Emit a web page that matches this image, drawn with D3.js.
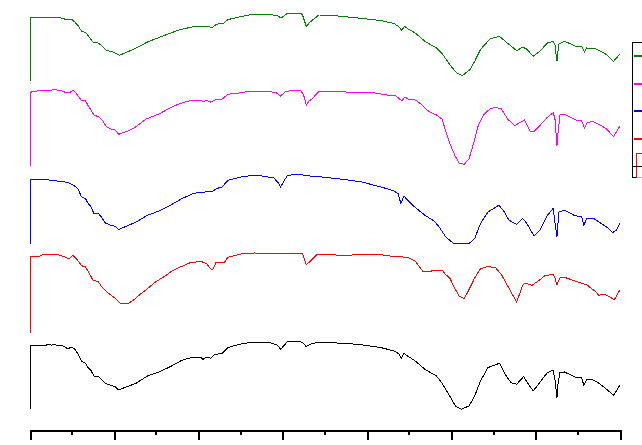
<!DOCTYPE html>
<html lang="en">
<head>
<meta charset="UTF-8">
<title>IR spectra</title>
<script src="https://d3js.org/d3.v7.min.js"></script>
<style>
  html, body { margin: 0; padding: 0; background: #fff; overflow: hidden; }
  svg { display: block; }
</style>
</head>
<body>
<svg id="chart" width="642" height="445"></svg>
<script>
// wavenumber (cm-1) and relative transmittance (a.u., from each trace's own baseline)
const greenData = [
  [4000,0],[4000,64],[3916,64],[3837,64],[3802,62.7],[3780,61.3],[3753,62],[3734,59.3],[3712,55],
  [3694,50],[3671,49],[3648,44],[3626,39.3],[3598,38.7],[3576,35.7],[3548,31],[3503,29],[3471,26],
  [3435,28.3],[3371,33.3],[3303,39.3],[3212,45.3],[3122,51],[3031,54.7],[2963,55],[2917,54],
  [2895,57],[2849,58.3],[2826,61.7],[2758,64.3],[2679,67],[2577,67],[2531,65.3],[2509,63.3],
  [2475,67.7],[2395,68],[2384,66.7],[2361,55],[2338,59.3],[2286,66.3],[2214,66],[2055,63.3],
  [1918,60.7],[1839,57.7],[1816,55],[1794,51],[1778,55],[1760,52.7],[1714,48.3],[1657,40],
  [1589,33.3],[1555,27.7],[1510,16.7],[1469,8.3],[1435,5.7],[1390,11.7],[1362,20],[1328,31.7],
  [1272,42.3],[1215,45],[1169,38.3],[1113,30.7],[1079,34],[1056,32.7],[1015,25],[976,30],
  [931,38.3],[897,40],[886,36.7],[874,20],[863,37.3],[829,40],[761,35],[727,35],[711,29.3],
  [697,33.3],[647,32.7],[579,26.7],[538,20],[500,27.3]
];
const magentaData = [
  [4000,0],[4000,73.7],[3961,75],[3905,75.3],[3871,76],[3848,76.3],[3814,75.3],[3791,73.7],
  [3762,73.7],[3746,75.7],[3730,73.7],[3712,69.3],[3694,65.3],[3671,65.3],[3655,60.3],[3639,56],
  [3621,51],[3594,49.3],[3564,44.3],[3548,39.3],[3519,37],[3496,36],[3473,31.7],[3451,33.3],
  [3417,35],[3371,39.3],[3314,46.7],[3235,52],[3167,58.3],[3122,61.7],[3053,65.3],[2985,65.7],
  [2974,64],[2951,65.7],[2929,64],[2895,66.7],[2860,67],[2826,71.7],[2758,73],[2702,74.7],
  [2611,74.7],[2543,73.7],[2513,70],[2486,74.3],[2441,75.7],[2395,75.7],[2377,71],[2361,61],
  [2345,65],[2327,67],[2286,74.7],[2214,74.7],[2089,73.7],[1952,73],[1884,71],[1828,70],
  [1794,65],[1775,69],[1760,67],[1714,66],[1680,61.7],[1646,56],[1623,53.7],[1589,51],
  [1555,46.7],[1533,34.3],[1510,22.7],[1476,9.3],[1453,2.7],[1424,1.7],[1396,7],[1374,19.3],
  [1340,41],[1306,51.7],[1272,57],[1237,58.7],[1203,57],[1165,46.7],[1124,40.3],[1101,42.7],
  [1067,46],[1033,35],[1010,34.3],[976,40.3],[931,48.7],[897,53.3],[886,47.7],[874,20.3],
  [867,34.3],[856,51],[829,51.7],[761,46],[727,45],[711,38.3],[693,43.7],[659,44.3],[625,41.7],
  [579,37],[538,29.3],[500,40.3]
];
const blueData = [
  [4000,0],[4000,65],[3927,65],[3871,64],[3814,62.7],[3780,62],[3746,59.7],[3716,55.7],[3694,47.3],
  [3671,45.7],[3655,40.7],[3639,38],[3621,30.7],[3594,30.7],[3576,27.3],[3553,21.3],[3519,19],
  [3496,18],[3473,14.7],[3439,17.3],[3371,22.3],[3303,29],[3235,33.3],[3167,39],[3099,45.7],
  [3042,50],[2997,52.3],[2981,51.3],[2951,53],[2917,53],[2895,55.7],[2860,57.3],[2826,64],
  [2758,67],[2679,69],[2622,68.3],[2554,66.3],[2531,62.3],[2513,57.3],[2497,62.3],[2475,68.3],
  [2441,69.7],[2395,69.7],[2338,68.3],[2270,67.3],[2145,65],[2032,62.3],[1918,57.3],[1850,54],
  [1816,50.7],[1800,40.7],[1782,48.3],[1760,44],[1714,36.7],[1657,29],[1600,23],[1566,15.7],
  [1533,7.3],[1487,0.7],[1396,0.7],[1362,5.7],[1328,20.7],[1283,32.3],[1219,39],[1192,34],
  [1158,24],[1113,20],[1079,25.7],[1056,21.7],[1010,8.3],[976,14],[931,29],[897,35.7],[886,22.3],
  [874,7.3],[863,32.3],[829,34],[772,29],[727,27.3],[715,19],[697,25.7],[659,26.3],[625,22.3],
  [579,17.3],[545,11.7],[522,14],[500,20.7]
];
const redData = [
  [4000,0],[4000,76.7],[3943,76.7],[3927,78.3],[3905,78.3],[3871,79],[3837,78.3],[3802,76.7],
  [3780,75],[3762,75],[3746,77.7],[3730,75],[3712,71.7],[3694,67.3],[3671,66],[3655,61.7],
  [3639,56.7],[3625,52.3],[3598,51.7],[3576,46.7],[3553,42.3],[3519,37.7],[3496,35],[3462,29.3],
  [3421,29],[3383,33.3],[3349,38.3],[3303,44.3],[3258,50.7],[3201,56.7],[3167,61],[3122,65],
  [3053,70],[2985,71.7],[2951,69],[2929,64.3],[2917,63.3],[2895,71],[2860,71],[2849,70],
  [2826,75.7],[2747,79],[2668,80],[2531,79.3],[2497,80],[2384,80],[2361,68.3],[2338,71.7],
  [2293,79],[2214,78.3],[2100,77],[2089,78.3],[1918,78.3],[1850,76.7],[1760,75.7],[1714,71.7],
  [1669,61.7],[1646,61],[1623,61.7],[1605,62.7],[1555,62.7],[1533,58.3],[1510,55],[1476,43.3],
  [1453,36.7],[1424,34.3],[1396,43.3],[1362,55],[1328,64.3],[1283,66.7],[1237,65],[1203,58.3],
  [1165,46.7],[1113,31],[1079,46.7],[1067,50],[1022,47.7],[988,51.7],[942,57.7],[897,58.3],
  [886,55],[874,48.3],[856,55],[829,55.7],[761,51.7],[693,47.7],[647,41.7],[625,37.7],[597,39],
  [568,36.7],[534,33.3],[500,43.3]
];
const blackData = [
  [4000,0],[4000,64],[3905,64],[3893,65],[3871,64],[3859,65],[3837,64],[3802,63.3],[3780,61],
  [3746,61.7],[3730,59.3],[3712,54],[3694,48.3],[3671,46],[3655,41.7],[3639,39],[3621,33.3],
  [3594,32.7],[3576,30],[3553,25.7],[3519,24],[3496,22.7],[3473,19.3],[3439,21.7],[3371,26],
  [3303,33.3],[3235,37.3],[3167,42.7],[3099,49],[3031,52.3],[2985,51.7],[2974,50],[2951,52.3],
  [2929,51],[2906,55],[2860,55.7],[2826,61.7],[2758,65],[2679,67.3],[2577,66.7],[2531,64],
  [2513,60],[2475,67.3],[2406,68.3],[2384,66.7],[2361,62.7],[2338,65],[2286,67.3],[2214,66.7],
  [2055,65],[1918,61.7],[1839,58.3],[1809,55],[1798,50.7],[1782,56],[1760,53.3],[1714,48.3],
  [1657,40],[1589,33.3],[1555,26],[1510,13.3],[1476,3.3],[1442,0],[1396,3.3],[1362,13.3],
  [1328,28.3],[1283,41.7],[1215,46],[1181,35],[1147,26.7],[1113,25],[1072,32.7],[1056,28.3],
  [1015,18.3],[976,26.7],[931,36.7],[897,39.3],[886,30],[874,11.7],[867,26.7],[856,36.7],
  [829,37.3],[761,31.7],[727,31.7],[715,24],[697,30],[659,29.3],[625,26],[579,20],[538,14],
  [500,24.3]
];

const seriesNames = ["green", "magenta", "blue", "red", "black"];
const seriesColors = ["#008000", "#ff00ff", "#0000ff", "#ff0000", "#000000"];
const seriesOffsets = [348.7, 264, 185.7, 97, 20.7];
const allSeries = [greenData, magentaData, blueData, redData, blackData];

const majorTicks = d3.range(4000, 499, -500);
const minorTicks = d3.range(3750, 500, -500);

const svg = d3.select("#chart");

const x = d3.scaleLinear().domain([4000, 500]).range([30, 620]);
const y = d3.scaleLinear().domain([0, 430]).range([430, 0]);

const line = d3.line()
  .x(d => x(d[0]))
  .y(d => y(d[1]));

allSeries.forEach((data, i) => {
  const off = seriesOffsets[i];
  svg.append("path")
    .datum(data.map(d => [d[0], d[1] + off]))
    .attr("fill", "none")
    .attr("stroke", seriesColors[i])
    .attr("stroke-width", 1)
    .attr("shape-rendering", "crispEdges")
    .attr("d", line);
});

// bottom axis, no labels
const axisG = svg.append("g").attr("transform", "translate(0,430)");
axisG.call(d3.axisBottom(x).tickValues(majorTicks).tickSize(10).tickSizeOuter(0).tickFormat(""));
axisG.append("g").selectAll("line")
  .data(minorTicks)
  .join("line")
  .attr("x1", d => x(d)).attr("x2", d => x(d))
  .attr("y1", 0).attr("y2", 5)
  .attr("stroke", "#000");
axisG.selectAll("line").attr("stroke-width", 2);
axisG.select(".domain").attr("stroke-width", 2);
axisG.selectAll("path, line").attr("shape-rendering", "crispEdges");

// legend (cut by the window edge)
const legend = svg.append("g").attr("shape-rendering", "crispEdges");
legend.append("rect")
  .attr("x", 632.5).attr("y", 42.5).attr("width", 60).attr("height", 135)
  .attr("fill", "none").attr("stroke", "#000").attr("stroke-width", 1);
const legendY = [56, 84, 111, 139];
legend.selectAll("line.key")
  .data(legendY)
  .join("line")
  .attr("class", "key")
  .attr("x1", 634).attr("x2", 650)
  .attr("y1", d => d).attr("y2", d => d)
  .attr("stroke", (d, i) => seriesColors[i])
  .attr("stroke-width", 1.5);
legend.append("path")
  .attr("d", "M650,153.5H636.5V178")
  .attr("fill", "none").attr("stroke", "#ff0000").attr("stroke-width", 1.2);
legend.append("line")
  .attr("x1", 633).attr("x2", 650).attr("y1", 166.5).attr("y2", 166.5)
  .attr("stroke", "#000").attr("stroke-width", 1.2);
legend.append("line")
  .attr("x1", 637).attr("x2", 650).attr("y1", 177.5).attr("y2", 177.5)
  .attr("stroke", "#00ffff").attr("stroke-width", 1.5);
</script>
</body>
</html>
